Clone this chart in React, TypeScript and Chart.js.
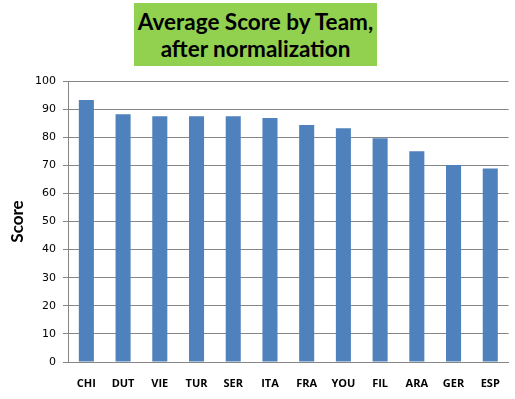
import React, { useEffect, useRef } from "react";
import { Chart, registerables } from "chart.js";

Chart.register(...registerables);

const categories = ["CHI", "DUT", "VIE", "TUR", "SER", "ITA", "FRA", "YOU", "FIL", "ARA", "GER", "ESP"];
const scores = [93.2, 88.2, 87.5, 87.5, 87.5, 86.8, 84.3, 83.2, 79.6, 75.0, 70.1, 68.9];
const titleLines = ["Average Score by Team,", "after normalization"];
const yAxisTitle = "Score";

export default function App() {
  const ref = useRef<HTMLCanvasElement | null>(null);

  useEffect(() => {
    if (!ref.current) return;
    const chart = new Chart(ref.current, {
      type: "bar",
      data: {
        labels: categories,
        datasets: [
          {
            data: scores,
            backgroundColor: "#4F81BD",
            borderWidth: 0,
            barPercentage: 0.41,
            categoryPercentage: 1,
          },
        ],
      },
      options: {
        animation: false,
        responsive: false,
        layout: { padding: { top: 81, right: 4, left: 0, bottom: 0 } },
        plugins: { legend: { display: false }, tooltip: { enabled: false }, title: { display: false } },
        scales: {
          x: {
            grid: { display: false, drawTicks: false },
            border: { display: true, color: "#868686", width: 1 },
            ticks: {
              color: "#000",
              padding: 15,
              font: { family: "'Open Sans'", size: 11, weight: "bold" },
              maxRotation: 0,
              autoSkip: false,
            },
            afterFit: (s: any) => {
              s.height = 37;
            },
          },
          y: {
            min: 0,
            max: 100,
            ticks: {
              stepSize: 10,
              color: "#000",
              padding: 7,
              font: { family: "'DejaVu Sans'", size: 11 },
            },
            grid: { color: "#868686", lineWidth: 1, drawTicks: true, tickLength: 5 },
            border: { display: true, color: "#868686", width: 1 },
            title: {
              display: true,
              text: yAxisTitle,
              color: "#000",
              font: { family: "Lato", size: 17, weight: "bold" },
              padding: { top: 7, bottom: 0 },
            },
            afterFit: (s: any) => {
              s.width = 68;
            },
          },
        },
      },
    });
    return () => chart.destroy();
  }, []);

  return (
    <div style={{ position: "fixed", left: 0, top: 0, width: 515, height: 399, background: "#fff" }}>
      <canvas ref={ref} width={515} height={399} style={{ display: "block" }} />
      <div
        style={{
          position: "absolute",
          left: 134,
          top: 3,
          width: 243,
          height: 63,
          background: "#92D050",
          display: "flex",
          flexDirection: "column",
          justifyContent: "center",
          alignItems: "center",
          fontFamily: "Lato",
          fontWeight: "bold",
          fontSize: 22.5,
          lineHeight: "27px",
          color: "#000",
          whiteSpace: "nowrap",
        }}
      >
        {titleLines.map((t) => (
          <div key={t}>{t}</div>
        ))}
      </div>
    </div>
  );
}
